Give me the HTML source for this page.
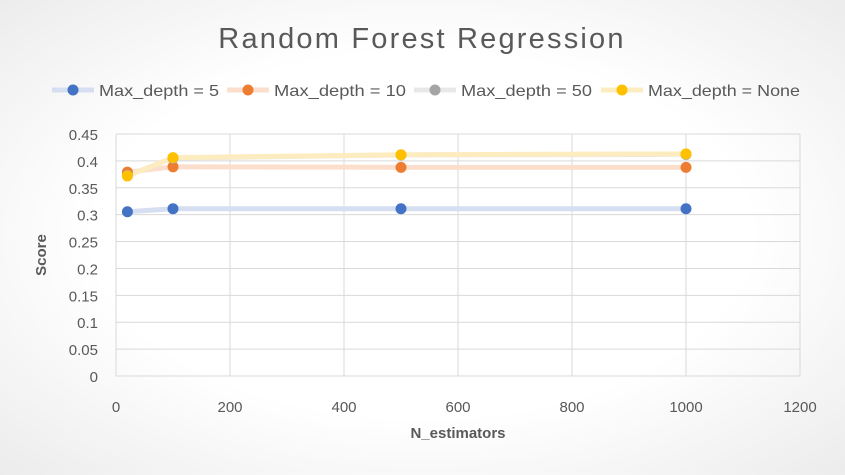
<!DOCTYPE html>
<html><head><meta charset="utf-8"><style>
html,body{margin:0;padding:0}
body{width:845px;height:470px;overflow:hidden;font-family:"Liberation Sans",sans-serif;background:radial-gradient(ellipse at center,#ffffff 55%,#ececec 100%)}
svg text{font-family:"Liberation Sans",sans-serif}
</style></head><body>
<svg id="chart" width="845" height="470" xmlns="http://www.w3.org/2000/svg">
<text x="422" y="48" text-anchor="middle" font-size="29" fill="#595959" letter-spacing="2.2">Random Forest Regression</text>
<g id="legend"></g>
<g id="grid"></g>
<g id="axes"></g>
<g id="series"></g>
<text transform="translate(46,255) rotate(-90)" text-anchor="middle" font-size="15" font-weight="bold" fill="#595959">Score</text>
<text x="458" y="438" text-anchor="middle" font-size="15" font-weight="bold" fill="#595959">N_estimators</text>
</svg>
<script>
const xValues=[20,100,500,1000];
const seriesNames=["Max_depth = 5","Max_depth = 10","Max_depth = 50","Max_depth = None"];
const depth5=[0.3055,0.311,0.311,0.311];
const depth10=[0.379,0.389,0.388,0.388];
const depth50=[0.373,0.405,0.411,0.412];
const depthNone=[0.372,0.406,0.4115,0.413];
const yTicks=[0,0.05,0.1,0.15,0.2,0.25,0.3,0.35,0.4,0.45];
const xTicks=[0,200,400,600,800,1000,1200];
const colors=["#4472c4","#ed7d31","#a5a5a5","#ffc000"];
const lineColors=["#d6dff1","#fbdfcc","#e8e8e8","#fcecc0"];
const NS="http://www.w3.org/2000/svg";
const L=116,R=800,T=134,B=376;
function sx(v){return L+(v-0)/(1200-0)*(R-L);}
function sy(v){return B-(v/0.45)*(B-T);}
function mk(t,a,p){const e=document.createElementNS(NS,t);for(const k in a)e.setAttribute(k,a[k]);p.appendChild(e);return e;}
const grid=document.getElementById('grid'),axes=document.getElementById('axes'),ser=document.getElementById('series'),leg=document.getElementById('legend');
yTicks.forEach(v=>{
 const g=mk('line',{x1:L,x2:R,y1:sy(v),y2:sy(v),stroke:'#d9d9d9','stroke-width':1},grid);
 
 
 const t=mk('text',{x:L-18,y:sy(v)+6,'text-anchor':'end','font-size':15,fill:'#595959'},axes);
 t.textContent=String(v);
 
 
});
xTicks.forEach(v=>{
 const g=mk('line',{x1:sx(v),x2:sx(v),y1:T,y2:B,stroke:'#d9d9d9','stroke-width':1},grid);
 
 
 const t=mk('text',{x:sx(v),y:412,'text-anchor':'middle','font-size':15,fill:'#595959'},axes);
 t.textContent=String(v);
 
 
});
const all=[depth5,depth10,depth50,depthNone];
all.forEach((vals,i)=>{
 const pts=vals.map((v,j)=>sx(xValues[j])+','+sy(v)).join(' ');
 const pl=mk('polyline',{points:pts,fill:'none',stroke:lineColors[i],'stroke-width':5,'stroke-linejoin':'round'},ser);
 
 
});
all.forEach((vals,i)=>{
 vals.forEach((v,j)=>{
  const c=mk('circle',{cx:sx(xValues[j]),cy:sy(v),r:5.5,fill:colors[i]},ser);
  
  
 });
});
const legX=[52,227,414,601];
const legW=[120,132,131,152];
seriesNames.forEach((n,i)=>{
 const x=legX[i];
 const ln=mk('line',{x1:x,x2:x+42,y1:90,y2:90,stroke:lineColors[i],'stroke-width':5},leg);
 
 
 const c=mk('circle',{cx:x+21,cy:90,r:5.5,fill:colors[i]},leg);
 
 
 const t=mk('text',{x:x+47,y:96,'font-size':16,fill:'#595959',textLength:legW[i],lengthAdjust:'spacingAndGlyphs'},leg);
 t.textContent=n;
 
 
});
</script>
</body></html>
